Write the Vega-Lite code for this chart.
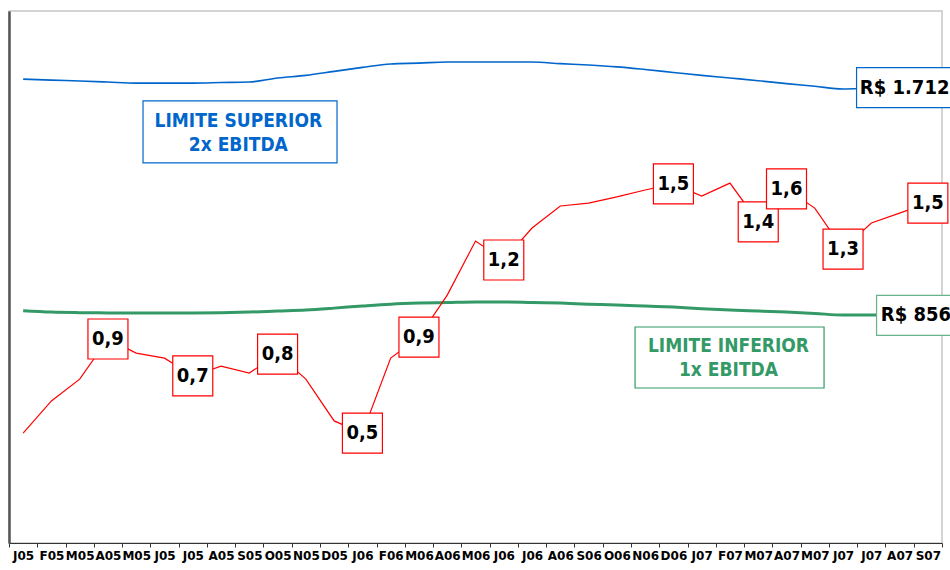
{
  "$schema": "https://vega.github.io/schema/vega-lite/v6.json",
  "width": 933,
  "height": 532,
  "autosize": {"type": "none"},
  "padding": {"left": 9, "top": 11, "right": 8, "bottom": 27},
  "background": "white",
  "config": {
    "view": {"stroke": "#c6c6c6", "strokeWidth": 1.5},
    "axisY": {"labels": false, "ticks": false, "grid": false, "domainColor": "#555555", "domainWidth": 2.5},
    "axisX": {"grid": false}
  },
  "datasets": {
    "meses": [
      {"mes": "2005-01-15", "divida": 413, "ebitda": 873, "ebitda2": 1744, "rotulo": null},
      {"mes": "2005-02-15", "divida": 534, "ebitda": 868, "ebitda2": 1740, "rotulo": null},
      {"mes": "2005-03-15", "divida": 616, "ebitda": 866, "ebitda2": 1737, "rotulo": null},
      {"mes": "2005-04-15", "divida": 767, "ebitda": 865, "ebitda2": 1733, "rotulo": "0,9"},
      {"mes": "2005-05-15", "divida": 714, "ebitda": 865, "ebitda2": 1729, "rotulo": null},
      {"mes": "2005-06-15", "divida": 695, "ebitda": 865, "ebitda2": 1729, "rotulo": null},
      {"mes": "2005-07-15", "divida": 628, "ebitda": 865, "ebitda2": 1729, "rotulo": "0,7"},
      {"mes": "2005-08-15", "divida": 665, "ebitda": 866, "ebitda2": 1731, "rotulo": null},
      {"mes": "2005-09-15", "divida": 639, "ebitda": 868, "ebitda2": 1733, "rotulo": null},
      {"mes": "2005-10-15", "divida": 710, "ebitda": 872, "ebitda2": 1748, "rotulo": "0,8"},
      {"mes": "2005-11-15", "divida": 616, "ebitda": 876, "ebitda2": 1758, "rotulo": null},
      {"mes": "2005-12-15", "divida": 459, "ebitda": 883, "ebitda2": 1773, "rotulo": null},
      {"mes": "2006-01-15", "divida": 413, "ebitda": 891, "ebitda2": 1788, "rotulo": "0,5"},
      {"mes": "2006-02-15", "divida": 695, "ebitda": 898, "ebitda2": 1801, "rotulo": null},
      {"mes": "2006-03-15", "divida": 774, "ebitda": 902, "ebitda2": 1804, "rotulo": "0,9"},
      {"mes": "2006-04-15", "divida": 932, "ebitda": 904, "ebitda2": 1808, "rotulo": null},
      {"mes": "2006-05-15", "divida": 1135, "ebitda": 906, "ebitda2": 1808, "rotulo": null},
      {"mes": "2006-06-15", "divida": 1064, "ebitda": 906, "ebitda2": 1808, "rotulo": "1,2"},
      {"mes": "2006-07-15", "divida": 1184, "ebitda": 904, "ebitda2": 1808, "rotulo": null},
      {"mes": "2006-08-15", "divida": 1267, "ebitda": 902, "ebitda2": 1802, "rotulo": null},
      {"mes": "2006-09-15", "divida": 1278, "ebitda": 898, "ebitda2": 1797, "rotulo": null},
      {"mes": "2006-10-15", "divida": 1301, "ebitda": 895, "ebitda2": 1790, "rotulo": null},
      {"mes": "2006-11-15", "divida": 1327, "ebitda": 891, "ebitda2": 1780, "rotulo": null},
      {"mes": "2006-12-15", "divida": 1350, "ebitda": 887, "ebitda2": 1769, "rotulo": "1,5"},
      {"mes": "2007-01-15", "divida": 1304, "ebitda": 881, "ebitda2": 1758, "rotulo": null},
      {"mes": "2007-02-15", "divida": 1353, "ebitda": 876, "ebitda2": 1748, "rotulo": null},
      {"mes": "2007-03-15", "divida": 1207, "ebitda": 872, "ebitda2": 1738, "rotulo": "1,4"},
      {"mes": "2007-04-15", "divida": 1331, "ebitda": 868, "ebitda2": 1727, "rotulo": "1,6"},
      {"mes": "2007-05-15", "divida": 1259, "ebitda": 863, "ebitda2": 1717, "rotulo": null},
      {"mes": "2007-06-15", "divida": 1105, "ebitda": 857, "ebitda2": 1707, "rotulo": "1,3"},
      {"mes": "2007-07-15", "divida": 1203, "ebitda": 857, "ebitda2": 1710, "rotulo": null},
      {"mes": "2007-08-15", "divida": 1240, "ebitda": 858, "ebitda2": 1711, "rotulo": null},
      {"mes": "2007-09-15", "divida": 1278, "ebitda": 856, "ebitda2": 1712, "rotulo": "1,5"}
    ]
  },
  "encoding": {
    "x": {
      "field": "mes",
      "type": "ordinal",
      "timeUnit": "yearmonth",
      "scale": {"paddingInner": 0, "paddingOuter": 0},
      "axis": {
        "title": null,
        "labelAngle": 0,
        "labelFont": "DejaVu Sans",
        "labelFontWeight": "bold",
        "labelFontSize": 12,
        "labelColor": "#000000",
        "labelPadding": 3,
        "labelOverlap": false,
        "labelBound": false,
        "tickBand": "extent",
        "tickSize": 4,
        "tickColor": "#333333",
        "domainColor": "#333333",
        "labelExpr": "datum.value ? slice(timeFormat(datum.value, '%b'), 0, 1) + timeFormat(datum.value, '%y') : ''"
      }
    }
  },
  "layer": [
    {
      "data": {"name": "meses"},
      "mark": {"type": "line", "color": "#0066cc", "strokeWidth": 1.6, "interpolate": "monotone"},
      "encoding": {"y": {"field": "ebitda2", "type": "quantitative", "scale": {"domain": [0, 2000], "nice": false}, "title": null}}
    },
    {
      "data": {"name": "meses"},
      "mark": {"type": "line", "color": "#339966", "strokeWidth": 3, "interpolate": "monotone"},
      "encoding": {"y": {"field": "ebitda", "type": "quantitative", "title": null}}
    },
    {
      "data": {"name": "meses"},
      "mark": {"type": "line", "color": "#ff0000", "strokeWidth": 1.2},
      "encoding": {"y": {"field": "divida", "type": "quantitative", "title": null}}
    },
    {
      "data": {"name": "meses"},
      "transform": [{"filter": "datum.rotulo != null"}],
      "mark": {"type": "point", "shape": "square", "size": 1600, "filled": true, "fill": "#ffffff", "stroke": "#ff0000", "strokeWidth": 1.2, "opacity": 1},
      "encoding": {"y": {"field": "divida", "type": "quantitative", "title": null}}
    },
    {
      "data": {"name": "meses"},
      "transform": [{"filter": "datum.rotulo != null"}],
      "mark": {"type": "text", "font": "DejaVu Sans Condensed, DejaVu Sans", "fontWeight": "bold", "fontSize": 20, "color": "#000000", "align": "center", "baseline": "middle"},
      "encoding": {"y": {"field": "divida", "type": "quantitative", "title": null}, "text": {"field": "rotulo"}}
    },
    {
      "data": {"values": [{"mes": "2007-09-15", "valor": 1712, "texto": "R$ 1.712"}]},
      "mark": {"type": "point", "shape": "M-3.565,-1H1.6V1H-3.565Z", "size": 1600, "filled": true, "fill": "#ffffff", "stroke": "#0066cc", "strokeWidth": 1.2, "opacity": 1},
      "encoding": {"y": {"field": "valor", "type": "quantitative", "title": null}}
    },
    {
      "data": {"values": [{"mes": "2007-09-15", "valor": 1712, "texto": "R$ 1.712"}]},
      "mark": {"type": "text", "font": "DejaVu Sans Condensed, DejaVu Sans", "fontWeight": "bold", "fontSize": 20, "color": "#000000", "align": "left", "baseline": "middle", "dx": -68},
      "encoding": {"y": {"field": "valor", "type": "quantitative", "title": null}, "text": {"field": "texto"}}
    },
    {
      "data": {"values": [{"mes": "2007-09-15", "valor": 856, "texto": "R$ 856"}]},
      "mark": {"type": "point", "shape": "M-2.565,-1H1.6V1H-2.565Z", "size": 1600, "filled": true, "fill": "#ffffff", "stroke": "#66b38a", "strokeWidth": 1.2, "opacity": 1},
      "encoding": {"y": {"field": "valor", "type": "quantitative", "title": null}}
    },
    {
      "data": {"values": [{"mes": "2007-09-15", "valor": 856, "texto": "R$ 856"}]},
      "mark": {"type": "text", "font": "DejaVu Sans Condensed, DejaVu Sans", "fontWeight": "bold", "fontSize": 20, "color": "#000000", "align": "left", "baseline": "middle", "dx": -47},
      "encoding": {"y": {"field": "valor", "type": "quantitative", "title": null}, "text": {"field": "texto"}}
    },
    {
      "data": {"values": [{"mes": "2005-09-15", "valor": 1540, "texto": "LIMITE SUPERIOR\n2x EBITDA"}]},
      "mark": {"type": "point", "shape": "M-5.315,-1.62H4.385V1.48H-5.315Z", "size": 1600, "filled": true, "fill": "#ffffff", "stroke": "#0066cc", "strokeWidth": 1.2, "opacity": 1},
      "encoding": {"y": {"field": "valor", "type": "quantitative", "title": null}}
    },
    {
      "data": {"values": [{"mes": "2005-09-15", "valor": 1540, "texto": "LIMITE SUPERIOR\n2x EBITDA"}]},
      "mark": {"type": "text", "font": "DejaVu Sans Condensed, DejaVu Sans", "fontWeight": "bold", "fontSize": 19, "lineHeight": 24, "lineBreak": "\n", "color": "#0066cc", "align": "center", "baseline": "middle", "dx": -11, "dy": -12},
      "encoding": {"y": {"field": "valor", "type": "quantitative", "title": null}, "text": {"field": "texto"}}
    },
    {
      "data": {"values": [{"mes": "2007-02-15", "valor": 694, "texto": "LIMITE INFERIOR\n1x EBITDA"}]},
      "mark": {"type": "point", "shape": "M-4.745,-1.57H4.705V1.48H-4.745Z", "size": 1600, "filled": true, "fill": "#ffffff", "stroke": "#339966", "strokeWidth": 1.2, "opacity": 1},
      "encoding": {"y": {"field": "valor", "type": "quantitative", "title": null}}
    },
    {
      "data": {"values": [{"mes": "2007-02-15", "valor": 694, "texto": "LIMITE INFERIOR\n1x EBITDA"}]},
      "mark": {"type": "text", "font": "DejaVu Sans Condensed, DejaVu Sans", "fontWeight": "bold", "fontSize": 19, "lineHeight": 24, "lineBreak": "\n", "color": "#339966", "align": "center", "baseline": "middle", "dx": -1.5, "dy": -12},
      "encoding": {"y": {"field": "valor", "type": "quantitative", "title": null}, "text": {"field": "texto"}}
    }
  ]
}
